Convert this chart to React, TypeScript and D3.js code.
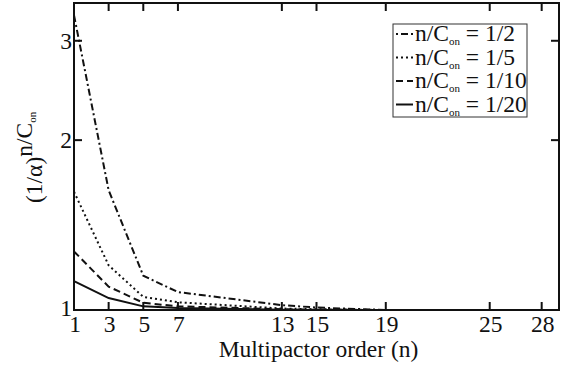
import React, { useEffect, useRef } from 'react';
import * as d3 from 'd3';

// multipactor order on the x axis
const orders = [1, 3, 5, 7, 13, 15, 19, 25, 28];
const xTicks = [1, 3, 5, 7, 13, 15, 19, 25, 28];
const yTicks = [1, 2, 3];

// (1/alpha)^(n/Con)
const half = [3.33, 1.63, 1.15, 1.076, 1.02, 1.01, 1.0, 1.0, 1.0];
const fifth = [1.62, 1.2, 1.055, 1.032, 1.006, 1.003, 1.0, 1.0, 1.0];
const tenth = [1.27, 1.1, 1.03, 1.015, 1.003, 1.001, 1.0, 1.0, 1.0];
const twentieth = [1.125, 1.05, 1.015, 1.008, 1.001, 1.0, 1.0, 1.0, 1.0];

const seriesLabels = ['1/2', '1/5', '1/10', '1/20'];
const dashes = ['7,3,2,3', '2,3', '7,4', null];

export default function App() {
	const ref = useRef<SVGSVGElement>(null);

	useEffect(() => {
		const left = 74, right = 559, top = 3, bottom = 310;
		const font = '"Liberation Serif", "Times New Roman", serif';
		const fs = '23.5px';

		const svg = d3.select(ref.current);
		svg.selectAll('*').remove();

		const x = d3.scaleLinear().domain([1, 29]).range([left, right]);
		const y = d3.scaleLog().domain([1, 3.5]).range([bottom, top]);

		const data = [half, fifth, tenth, twentieth];

		// curves
		const line = d3.line<number>()
			.x((d, i) => x(orders[i]))
			.y(d => y(d));
		data.forEach((s, k) => {
			const p = svg.append('path')
				.attr('d', line(s))
				.attr('fill', 'none')
				.attr('stroke', '#111')
				.attr('stroke-width', 2);
			if (dashes[k]) p.attr('stroke-dasharray', dashes[k]);
		});

		// frame
		svg.append('rect')
			.attr('x', left).attr('y', top)
			.attr('width', right - left).attr('height', bottom - top)
			.attr('fill', 'none').attr('stroke', '#111').attr('stroke-width', 2);

		// ticks, pointing inwards on all four sides
		const tl = 8;
		xTicks.forEach(t => {
			svg.append('line').attr('x1', x(t)).attr('x2', x(t))
				.attr('y1', bottom).attr('y2', bottom - tl)
				.attr('stroke', '#111').attr('stroke-width', 2);
			svg.append('line').attr('x1', x(t)).attr('x2', x(t))
				.attr('y1', top).attr('y2', top + tl)
				.attr('stroke', '#111').attr('stroke-width', 2);
			svg.append('text').attr('x', x(t) + 1).attr('y', bottom + 22)
				.attr('text-anchor', 'middle')
				.style('font-family', font).style('font-size', fs)
				.attr('fill', '#111')
				.text(t);
		});
		yTicks.forEach(t => {
			svg.append('line').attr('x1', left).attr('x2', left + tl)
				.attr('y1', y(t)).attr('y2', y(t))
				.attr('stroke', '#111').attr('stroke-width', 2);
			svg.append('line').attr('x1', right).attr('x2', right - tl)
				.attr('y1', y(t)).attr('y2', y(t))
				.attr('stroke', '#111').attr('stroke-width', 2);
			svg.append('text').attr('x', left - 2).attr('y', y(t) + (t === 1 ? 6 : 8))
				.attr('text-anchor', 'end')
				.style('font-family', font).style('font-size', fs)
				.attr('fill', '#111')
				.text(t);
		});

		// axis titles
		svg.append('text').attr('x', (left + right) / 2 + 2).attr('y', 357)
			.attr('text-anchor', 'middle')
			.style('font-family', font).style('font-size', fs)
			.attr('fill', '#111')
			.text('Multipactor order (n)');

		const yl = svg.append('text')
			.attr('transform', 'translate(42,203) rotate(-90)')
			.style('font-family', font).style('font-size', fs)
			.attr('fill', '#111');
		yl.append('tspan').text('(1/α)');
		yl.append('tspan').attr('dy', -10).text('n/C');
		yl.append('tspan').attr('dy', 4).style('font-size', '11px').text('on');

		// legend
		const lg = svg.append('g').attr('transform', 'translate(393,24)');
		lg.append('rect').attr('width', 134).attr('height', 93)
			.attr('fill', 'white').attr('stroke', '#333').attr('stroke-width', 1);
		seriesLabels.forEach((lab, k) => {
			const cy = 10 + k * 23.5;
			const p = lg.append('line').attr('x1', 3).attr('x2', 20)
				.attr('y1', cy).attr('y2', cy)
				.attr('stroke', '#111').attr('stroke-width', 2);
			if (dashes[k]) p.attr('stroke-dasharray', k === 0 ? '2,3,7,3' : dashes[k]);
			const t = lg.append('text').attr('x', 22).attr('y', cy + 7)
				.style('font-family', font).style('font-size', fs)
				.attr('fill', '#111');
			t.append('tspan').text('n/C');
			t.append('tspan').attr('dy', 4).style('font-size', '11px').text('on');
			t.append('tspan').attr('dy', -4).text(' = ' + lab);
		});
	}, []);

	return (
		<svg ref={ref} width={569} height={365}
			style={{ position: 'absolute', left: 0, top: 0, background: 'white' }} />
	);
}
